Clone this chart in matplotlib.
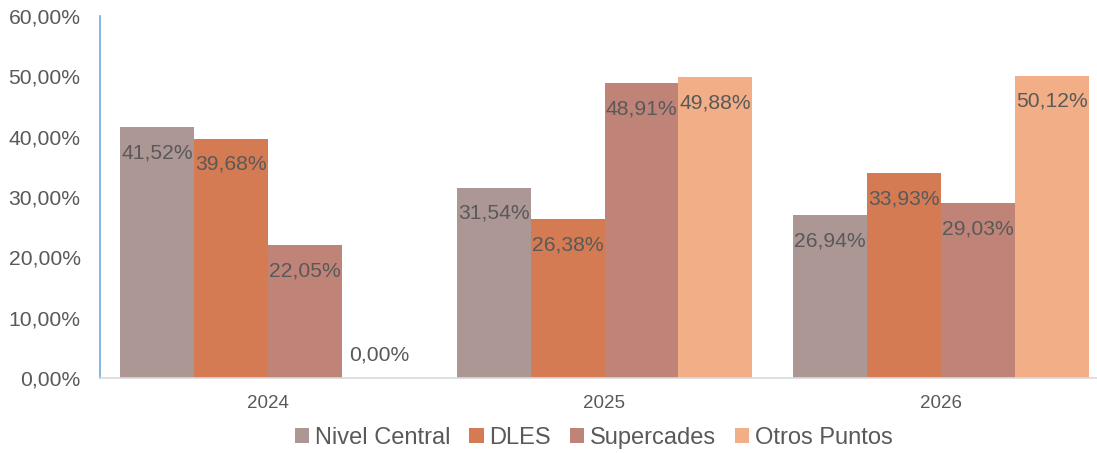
import matplotlib
matplotlib.use("Agg")
import matplotlib.pyplot as plt
import numpy as np
from matplotlib.ticker import FuncFormatter

years = ["2024", "2025", "2026"]
series_names = ["Nivel Central", "DLES", "Supercades", "Otros Puntos"]
nivel_central = [41.52, 31.54, 26.94]
dles = [39.68, 26.38, 33.93]
supercades = [22.05, 48.91, 29.03]
otros_puntos = [0.00, 49.88, 50.12]
colors = ["#AC9795", "#D57B54", "#BF8477", "#F2AE86"]
yticks = [0, 10, 20, 30, 40, 50, 60]

plt.rcParams['font.family'] = ['Liberation Sans', 'DejaVu Sans']
text_color = "#595959"

fig = plt.figure(figsize=(10.97, 4.53), dpi=100)
W, H = 1097, 453
ax = fig.add_axes([100 / W, 1 - 378 / H, 1009 / W, 362 / H])

x = np.arange(len(years))
w = 0.22
data = [nivel_central, dles, supercades, otros_puntos]
for i, (name, vals, c) in enumerate(zip(series_names, data, colors)):
    pos = x + (i - 1.5) * w
    ax.bar(pos, vals, width=w, color=c, label=name, zorder=2)
    for xp, v in zip(pos, vals):
        lbl = f"{v:.2f}%".replace(".", ",")
        off = -18.5 if v > 0 else 16.5
        ax.annotate(lbl, (xp, v), xytext=(0, off), textcoords="offset points",
                    ha="center", va="center", fontsize=15.2, color=text_color, zorder=3)

ax.set_xlim(-0.5, 2.5)
ax.set_ylim(0, 60)
ax.set_yticks(yticks)
ax.yaxis.set_major_formatter(FuncFormatter(lambda v, p: f"{v:.2f}%".replace(".", ",")))
ax.set_xticks(x)
ax.set_xticklabels(years)
ax.tick_params(axis="y", length=0, pad=14, labelsize=15.2, labelcolor=text_color)
ax.tick_params(axis="x", length=0, pad=12.5, labelsize=13.5, labelcolor=text_color)

for s in ["top", "right"]:
    ax.spines[s].set_visible(False)
ax.spines["left"].set_color("#6FA8DC")
ax.spines["left"].set_linewidth(1.2)
ax.spines["bottom"].set_color("#D9D9D9")
ax.spines["bottom"].set_linewidth(1.2)

leg = fig.legend(loc="center", bbox_to_anchor=(594 / W, 1 - 438 / H), ncol=4,
                 frameon=False, fontsize=17, handlelength=0.6, handleheight=0.6,
                 handletextpad=0.25, columnspacing=0.8, labelcolor=text_color)

fig.savefig("out.png", dpi=100)
